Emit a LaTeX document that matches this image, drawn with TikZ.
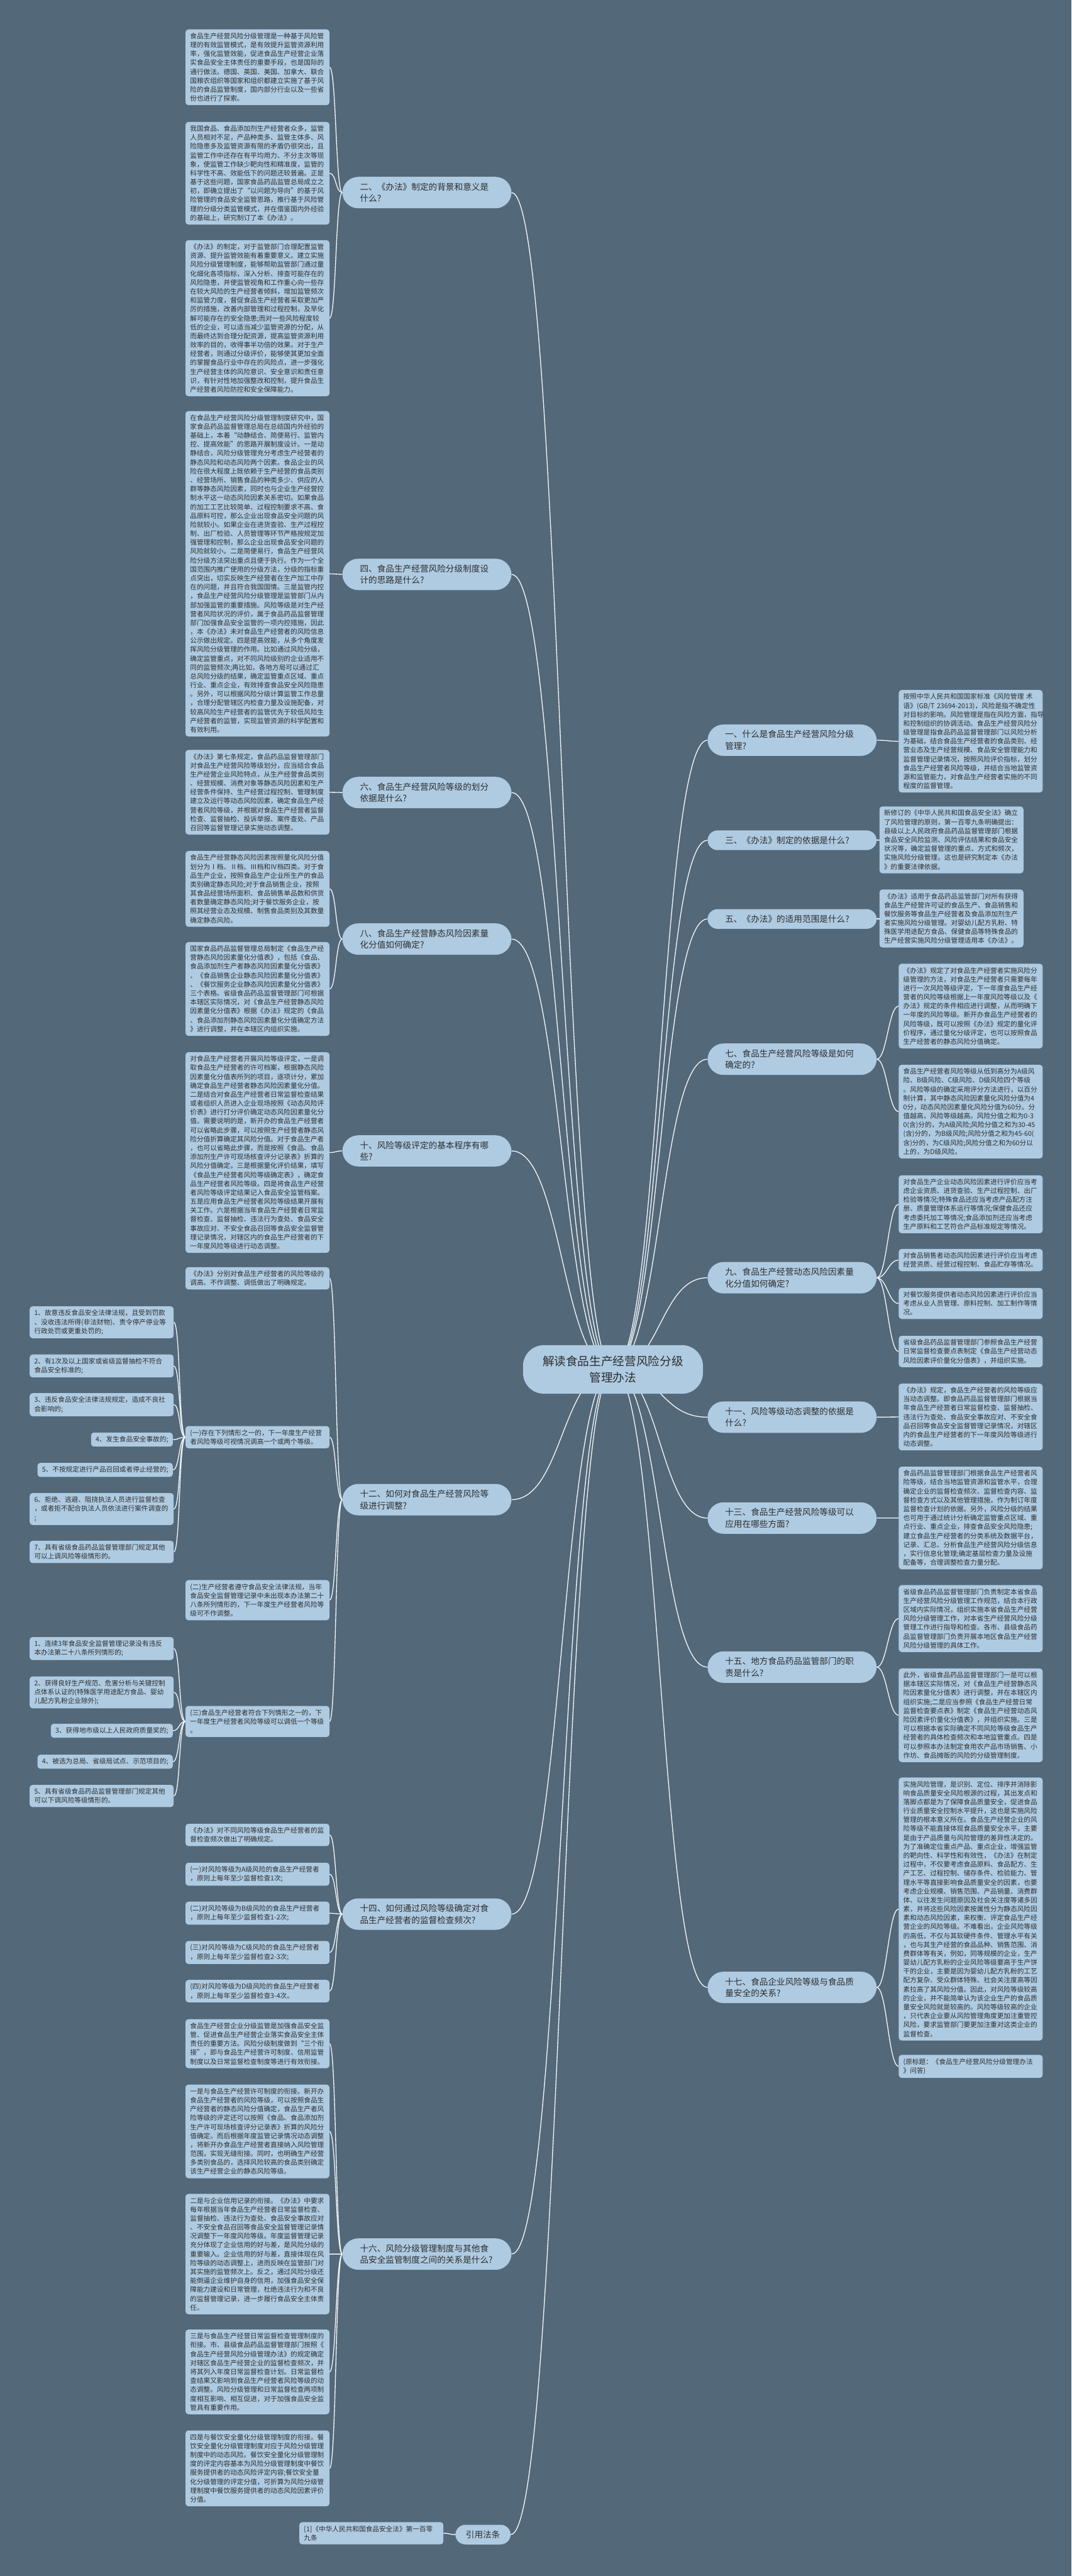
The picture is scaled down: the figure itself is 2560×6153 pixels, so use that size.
\documentclass[tikz,border=0pt]{standalone}
\usepackage{fontspec}
\setmainfont{Noto Sans CJK SC}
\usetikzlibrary{backgrounds}
\definecolor{bgc}{HTML}{536878}
\definecolor{boxc}{HTML}{AECBE2}
\definecolor{txtc}{HTML}{2E2E2E}
\definecolor{linec}{HTML}{F2F6F9}
\tikzset{
  txbox/.style={fill=boxc, rounded corners=7pt, text width=322pt, inner xsep=11pt, inner ysep=8.5pt, align=left, text=txtc, font=\fontsize{16}{21.3}\selectfont},
  lbox/.style={txbox, anchor=north west},
  nbox/.style={fill=boxc, rounded corners=7pt, inner xsep=11pt, inner ysep=8.5pt, align=left, text=txtc, font=\fontsize{16}{21.3}\selectfont, anchor=north east},
  lab/.style={fill=boxc, rounded corners=38pt, text width=320pt, inner xsep=42pt, inner ysep=14pt, align=left, text=txtc, font=\fontsize{20.5}{28}\selectfont},
  lab1/.style={lab, rounded corners=24pt},
  conn/.style={draw=linec, line width=2pt},
}
\begin{document}
\begin{tikzpicture}[x=1pt,y=-1pt]
\useasboundingbox (0,0) rectangle (2560,6153);
% root
\node[fill=boxc, rounded corners=50pt, text width=336pt, inner xsep=47pt, inner ysep=26pt, align=center, text=txtc, font=\fontsize{28}{38}\selectfont] (root) at (1464.5,3271) {解读食品生产经营风险分级\\管理办法};

% ---------- left labels ----------
\node[lab] (L2) at (1020,460) {二、《办法》制定的背景和意义是\\什么?};
\node[lab] (L4) at (1020,1372) {四、食品生产经营风险分级制度设\\计的思路是什么?};
\node[lab] (L6) at (1020,1893) {六、食品生产经营风险等级的划分\\依据是什么?};
\node[lab] (L8) at (1020,2243) {八、食品生产经营静态风险因素量\\化分值如何确定?};
\node[lab] (L10) at (1020,2749) {十、风险等级评定的基本程序有哪\\些?};
\node[lab] (L12) at (1020,3582) {十二、如何对食品生产经营风险等\\级进行调整?};
\node[lab] (L14) at (1020,4572) {十四、如何通过风险等级确定对食\\品生产经营者的监督检查频次?};
\node[lab] (L16) at (1020,5384) {十六、风险分级管理制度与其他食\\品安全监管制度之间的关系是什么?};
\node[fill=boxc, rounded corners=24pt, inner xsep=25pt, inner ysep=14pt, text=txtc, font=\fontsize{20.5}{28}\selectfont] (Lref) at (1154,6054) {引用法条};

% ---------- right labels ----------
\node[lab] (R1) at (1892.5,1768) {一、什么是食品生产经营风险分级\\管理?};
\node[lab1] (R3) at (1892.5,2007) {三、《办法》制定的依据是什么?};
\node[lab1] (R5) at (1892.5,2195) {五、《办法》的适用范围是什么?};
\node[lab] (R7) at (1892.5,2530) {七、食品生产经营风险等级是如何\\确定的?};
\node[lab] (R9) at (1892.5,3052) {九、食品生产经营动态风险因素量\\化分值如何确定?};
\node[lab] (R11) at (1892.5,3385) {十一、风险等级动态调整的依据是\\什么?};
\node[lab] (R13) at (1892.5,3626) {十三、食品生产经营风险等级可以\\应用在哪些方面?};
\node[lab] (R15) at (1892.5,3982) {十五、地方食品药品监管部门的职\\责是什么?};
\node[lab] (R17) at (1892.5,4747) {十七、食品企业风险等级与食品质\\量安全的关系?};

% ---------- left boxes ----------
\node[lbox] (L2a) at (443,70) {食品生产经营风险分级管理是一种基于风险管\\理的有效监管模式，是有效提升监管资源利用\\率，强化监管效能，促进食品生产经营企业落\\实食品安全主体责任的重要手段，也是国际的\\通行做法。德国、英国、美国、加拿大、联合\\国粮农组织等国家和组织都建立实施了基于风\\险的食品监管制度，国内部分行业以及一些省\\份也进行了探索。};
\node[lbox] (L2b) at (443,291) {我国食品、食品添加剂生产经营者众多，监管\\人员相对不足，产品种类多、监管主体多、风\\险隐患多及监管资源有限的矛盾仍很突出，且\\监管工作中还存在有平均用力、不分主次等现\\象，使监管工作缺少靶向性和精准度，监管的\\科学性不高、效能低下的问题还较普遍。正是\\基于这些问题，国家食品药品监管总局成立之\\初，即确立提出了“以问题为导向”的基于风\\险管理的食品安全监管思路，推行基于风险管\\理的分级分类监管模式，并在借鉴国内外经验\\的基础上，研究制订了本《办法》。};
\node[lbox] (L2c) at (443,573.5) {《办法》的制定，对于监管部门合理配置监管\\资源、提升监管效能有着重要意义。建立实施\\风险分级管理制度，能够帮助监管部门通过量\\化细化各项指标，深入分析、排查可能存在的\\风险隐患，并使监管视角和工作重心向一些存\\在较大风险的生产经营者倾斜，增加监管频次\\和监管力度，督促食品生产经营者采取更加严\\厉的措施，改善内部管理和过程控制，及早化\\解可能存在的安全隐患;而对一些风险程度较\\低的企业，可以适当减少监管资源的分配，从\\而最终达到合理分配资源，提高监管资源利用\\效率的目的，收得事半功倍的效果。对于生产\\经营者，则通过分级评价，能够使其更加全面\\的掌握食品行业中存在的风险点，进一步强化\\生产经营主体的风险意识、安全意识和责任意\\识，有针对性地加强整改和控制，提升食品生\\产经营者风险防控和安全保障能力。};
\node[lbox] (L4a) at (443,981.6) {在食品生产经营风险分级管理制度研究中，国\\家食品药品监督管理总局在总结国内外经验的\\基础上，本着“动静结合、简便易行、监管内\\控、提高效能”的思路开展制度设计。一是动\\静结合，风险分级管理充分考虑生产经营者的\\静态风险和动态风险两个因素。食品企业的风\\险在很大程度上既依赖于生产经营的食品类别\\、经营场所、销售食品的种类多少、供应的人\\群等静态风险因素，同时也与企业生产经营控\\制水平这一动态风险因素关系密切。如果食品\\的加工工艺比较简单、过程控制要求不高、食\\品原料可控，那么企业出现食品安全问题的风\\险就较小。如果企业在进货查验、生产过程控\\制、出厂检验、人员管理等环节严格按规定加\\强管理和控制，那么企业出现食品安全问题的\\风险就较小。二是简便易行，食品生产经营风\\险分级方法突出重点且便于执行。作为一个全\\国范围内推广使用的分级方法，分级的指标重\\点突出，切实反映生产经营者在生产加工中存\\在的问题，并且符合我国国情。三是监管内控\\，食品生产经营风险分级管理是监管部门从内\\部加强监管的重要措施。风险等级是对生产经\\营者风险状况的评价，属于食品药品监督管理\\部门加强食品安全监管的一项内控措施，因此\\，本《办法》未对食品生产经营者的风险信息\\公示做出规定。四是提高效能，从多个角度发\\挥风险分级管理的作用。比如通过风险分级，\\确定监管重点，对不同风险级别的企业适用不\\同的监管频次;再比如，各地方局可以通过汇\\总风险分级的结果，确定监管重点区域、重点\\行业、重点企业，有效排查食品安全风险隐患\\。另外，可以根据风险分级计算监管工作总量\\，合理分配管辖区内检查力量及设施配备，对\\较高风险生产经营者的监管优先于较低风险生\\产经营者的监管，实现监管资源的科学配置和\\有效利用。};
\node[lbox] (L6a) at (443,1791) {《办法》第七条规定，食品药品监督管理部门\\对食品生产经营风险等级划分，应当结合食品\\生产经营企业风险特点，从生产经营食品类别\\、经营规模、消费对象等静态风险因素和生产\\经营条件保持、生产经营过程控制、管理制度\\建立及运行等动态风险因素，确定食品生产经\\营者风险等级，并根据对食品生产经营者监督\\检查、监督抽检、投诉举报、案件查处、产品\\召回等监督管理记录实施动态调整。};
\node[lbox] (L8a) at (443,2032.5) {食品生产经营静态风险因素按照量化风险分值\\划分为Ⅰ档、Ⅱ档、Ⅲ档和Ⅳ档四类。对于食\\品生产企业，按照食品生产企业所生产的食品\\类别确定静态风险;对于食品销售企业，按照\\其食品经营场所面积、食品销售单品数和供货\\者数量确定静态风险;对于餐饮服务企业，按\\照其经营业态及规模、制售食品类别及其数量\\确定静态风险。};
\node[lbox] (L8b) at (443,2250) {国家食品药品监督管理总局制定《食品生产经\\营静态风险因素量化分值表》，包括《食品、\\食品添加剂生产者静态风险因素量化分值表》\\、《食品销售企业静态风险因素量化分值表》\\、《餐饮服务企业静态风险因素量化分值表》\\三个表格。省级食品药品监督管理部门可根据\\本辖区实际情况，对《食品生产经营静态风险\\因素量化分值表》根据《办法》规定的《食品\\、食品添加剂静态风险因素量化分值确定方法\\》进行调整，并在本辖区内组织实施。};
\node[lbox] (L10a) at (443,2513) {对食品生产经营者开展风险等级评定，一是调\\取食品生产经营者的许可档案，根据静态风险\\因素量化分值表所列的项目，逐项计分，累加\\确定食品生产经营者静态风险因素量化分值。\\二是结合对食品生产经营者日常监督检查结果\\或者组织人员进入企业现场按照《动态风险评\\价表》进行打分评价确定动态风险因素量化分\\值。需要说明的是，新开办的食品生产经营者\\可以省略此步骤，可以按照生产经营者静态风\\险分值折算确定其风险分值。对于食品生产者\\，也可以省略此步骤，而是按照《食品、食品\\添加剂生产许可现场核查评分记录表》折算的\\风险分值确定。三是根据量化评价结果，填写\\《食品生产经营者风险等级确定表》，确定食\\品生产经营者风险等级。四是将食品生产经营\\者风险等级评定结果记入食品安全监管档案。\\五是应用食品生产经营者风险等级结果开展有\\关工作。六是根据当年食品生产经营者日常监\\督检查、监督抽检、违法行为查处、食品安全\\事故应对、不安全食品召回等食品安全监督管\\理记录情况，对辖区内的食品生产经营者的下\\一年度风险等级进行动态调整。};
\node[lbox] (L12a) at (443,3026.6) {《办法》分别对食品生产经营者的风险等级的\\调高、不作调整、调低做出了明确规定。};
\node[lbox] (L12b) at (443,3406) {(一)存在下列情形之一的，下一年度生产经营\\者风险等级可视情况调高一个或两个等级。};
\node[lbox] (L12c) at (443,3774) {(二)生产经营者遵守食品安全法律法规，当年\\食品安全监督管理记录中未出现本办法第二十\\八条所列情形的，下一年度生产经营者风险等\\级可不作调整。};
\node[lbox] (L12d) at (443,4074.6) {(三)食品生产经营者符合下列情形之一的，下\\一年度生产经营者风险等级可以调低一个等级\\。};
% small boxes
\node[lbox] (s1) at (70.7,3120) {1、故意违反食品安全法律法规，且受到罚款\\、没收违法所得(非法财物)、责令停产停业等\\行政处罚或更重处罚的;};
\node[lbox] (s2) at (70.7,3235) {2、有1次及以上国家或省级监督抽检不符合\\食品安全标准的;};
\node[lbox] (s3) at (70.7,3327.5) {3、违反食品安全法律法规规定，造成不良社\\会影响的;};
\node[nbox] (s4) at (413,3421.5) {4、发生食品安全事故的;};
\node[nbox] (s5) at (413,3494) {5、不按规定进行产品召回或者停止经营的;};
\node[lbox] (s6) at (70.7,3566) {6、拒绝、逃避、阻挠执法人员进行监督检查\\，或者拒不配合执法人员依法进行案件调查的\\;};
\node[lbox] (s7) at (70.7,3680) {7、具有省级食品药品监督管理部门规定其他\\可以上调风险等级情形的。};
\node[lbox] (t1) at (70.7,3910) {1、连续3年食品安全监督管理记录没有违反\\本办法第二十八条所列情形的;};
\node[lbox] (t2) at (70.7,4004) {2、获得良好生产规范、危害分析与关键控制\\点体系认证的(特殊医学用途配方食品、婴幼\\儿配方乳粉企业除外);};
\node[nbox] (t3) at (413,4117) {3、获得地市级以上人民政府质量奖的;};
\node[nbox] (t4) at (413,4191) {4、被选为总局、省级局试点、示范项目的;};
\node[lbox] (t5) at (70.7,4263) {5、具有省级食品药品监督管理部门规定其他\\可以下调风险等级情形的。};
\node[lbox] (L14a) at (443,4356) {《办法》对不同风险等级食品生产经营者的监\\督检查频次做出了明确规定。};
\node[lbox] (L14b) at (443,4449) {(一)对风险等级为A级风险的食品生产经营者\\，原则上每年至少监督检查1次;};
\node[lbox] (L14c) at (443,4542) {(二)对风险等级为B级风险的食品生产经营者\\，原则上每年至少监督检查1-2次;};
\node[lbox] (L14d) at (443,4636) {(三)对风险等级为C级风险的食品生产经营者\\，原则上每年至少监督检查2-3次;};
\node[lbox] (L14e) at (443,4729) {(四)对风险等级为D级风险的食品生产经营者\\，原则上每年至少监督检查3-4次。};
\node[lbox] (L16a) at (443,4822.7) {食品生产经营企业分级监管是加强食品安全监\\管、促进食品生产经营企业落实食品安全主体\\责任的重要方法。风险分级制度做到“三个衔\\接”，即与食品生产经营许可制度、信用监管\\制度以及日常监督检查制度等进行有效衔接。};
\node[lbox] (L16b) at (443,4979) {一是与食品生产经营许可制度的衔接。新开办\\食品生产经营者的风险等级，可以按照食品生\\产经营者的静态风险分值确定，食品生产者风\\险等级的评定还可以按照《食品、食品添加剂\\生产许可现场核查评分记录表》折算的风险分\\值确定。而后根据年度监管记录情况动态调整\\，将新开办食品生产经营者直接纳入风险管理\\范围，实现无缝衔接。同时，也明确生产经营\\多类别食品的，选择风险较高的食品类别确定\\该生产经营企业的静态风险等级。};
\node[lbox] (L16c) at (443,5240) {二是与企业信用记录的衔接。《办法》中要求\\每年根据当年食品生产经营者日常监督检查、\\监督抽检、违法行为查处、食品安全事故应对\\、不安全食品召回等食品安全监督管理记录情\\况调整下一年度风险等级。年度监督管理记录\\充分体现了企业信用的好与差，是风险分级的\\重要输入。企业信用的好与差，直接体现在风\\险等级的动态调整上，进而反映在监管部门对\\其实施的监管频次上。反之，通过风险分级还\\能倒逼企业维护自身的信用，加强食品安全保\\障能力建设和日常管理，杜绝违法行为和不良\\的监督管理记录，进一步履行食品安全主体责\\任。};
\node[lbox] (L16d) at (443,5564) {三是与食品生产经营日常监督检查管理制度的\\衔接。市、县级食品药品监督管理部门按照《\\食品生产经营风险分级管理办法》的规定确定\\对辖区食品生产经营企业的监督检查频次，并\\将其列入年度日常监督检查计划。日常监督检\\查结果又影响到食品生产经营者风险等级的动\\态调整。风险分级管理和日常监督检查两项制\\度相互影响、相互促进，对于加强食品安全监\\管具有重要作用。};
\node[lbox] (L16e) at (443,5805) {四是与餐饮安全量化分级管理制度的衔接。餐\\饮安全量化分级管理制度对应于风险分级管理\\制度中的动态风险。餐饮安全量化分级管理制\\度的评定内容基本为风险分级管理制度中餐饮\\服务提供者的动态风险评定内容;餐饮安全量\\化分级管理的评定分值，可折算为风险分级管\\理制度中餐饮服务提供者的动态风险因素评价\\分值。};
\node[lbox] (Lrefa) at (715,6024) {[1]《中华人民共和国食品安全法》第一百零\\九条};

% ---------- right boxes ----------
\node[lbox] (R1a) at (2147,1648) {按照中华人民共和国国家标准《风险管理\ 术\\语》(GB/T 23694-2013)，风险是指不确定性\\对目标的影响。风险管理是指在风险方面，指导\\和控制组织的协调活动。食品生产经营风险分\\级管理是指食品药品监督管理部门以风险分析\\为基础，结合食品生产经营者的食品类别、经\\营业态及生产经营规模、食品安全管理能力和\\监督管理记录情况，按照风险评价指标，划分\\食品生产经营者风险等级，并结合当地监管资\\源和监管能力，对食品生产经营者实施的不同\\程度的监督管理。};
\node[lbox] (R3a) at (2101,1926) {新修订的《中华人民共和国食品安全法》确立\\了风险管理的原则，第一百零九条明确提出：\\县级以上人民政府食品药品监督管理部门根据\\食品安全风险监测、风险评估结果和食品安全\\状况等，确定监督管理的重点、方式和频次，\\实施风险分级管理。这也是研究制定本《办法\\》的重要法律依据。};
\node[lbox] (R5a) at (2101,2124.4) {《办法》适用于食品药品监管部门对所有获得\\食品生产经营许可证的食品生产、食品销售和\\餐饮服务等食品生产经营者及食品添加剂生产\\者实施风险分级管理。对婴幼儿配方乳粉、特\\殊医学用途配方食品、保健食品等特殊食品的\\生产经营实施风险分级管理适用本《办法》。};
\node[lbox] (R7a) at (2147,2301.7) {《办法》规定了对食品生产经营者实施风险分\\级管理的方法，对食品生产经营者只需要每年\\进行一次风险等级评定，下一年度食品生产经\\营者的风险等级根据上一年度风险等级以及《\\办法》规定的条件相应进行调整，从而明确下\\一年度的风险等级。新开办食品生产经营者的\\风险等级，既可以按照《办法》规定的量化评\\价程序，通过量化分级评定，也可以按照食品\\生产经营者的静态风险分值确定。};
\node[lbox] (R7b) at (2147,2543) {食品生产经营者风险等级从低到高分为A级风\\险、B级风险、C级风险、D级风险四个等级\\。风险等级的确定采用评分方法进行，以百分\\制计算，其中静态风险因素量化风险分值为4\\0分，动态风险因素量化风险分值为60分。分\\值越高，风险等级越高。风险分值之和为0-3\\0(含)分的，为A级风险;风险分值之和为30-45\\(含)分的，为B级风险;风险分值之和为45-60(\\含)分的，为C级风险;风险分值之和为60分以\\上的，为D级风险。};
\node[lbox] (R9a) at (2147,2807) {对食品生产企业动态风险因素进行评价应当考\\虑企业资质、进货查验、生产过程控制、出厂\\检验等情况;特殊食品还应当考虑产品配方注\\册、质量管理体系运行等情况;保健食品还应\\考虑委托加工等情况;食品添加剂还应当考虑\\生产原料和工艺符合产品标准规定等情况。};
\node[lbox] (R9b) at (2147,2983) {对食品销售者动态风险因素进行评价应当考虑\\经营资质、经营过程控制、食品贮存等情况。};
\node[lbox] (R9c) at (2147,3076) {对餐饮服务提供者动态风险因素进行评价应当\\考虑从业人员管理、原料控制、加工制作等情\\况。};
\node[lbox] (R9d) at (2147,3190.5) {省级食品药品监督管理部门参照食品生产经营\\日常监督检查要点表制定《食品生产经营动态\\风险因素评价量化分值表》，并组织实施。};
\node[lbox] (R11a) at (2147,3304.5) {《办法》规定，食品生产经营者的风险等级应\\当动态调整。即食品药品监督管理部门根据当\\年食品生产经营者日常监督检查、监督抽检、\\违法行为查处、食品安全事故应对、不安全食\\品召回等食品安全监督管理记录情况，对辖区\\内的食品生产经营者的下一年度风险等级进行\\动态调整。};
\node[lbox] (R13a) at (2147,3503) {食品药品监督管理部门根据食品生产经营者风\\险等级，结合当地监管资源和监管水平，合理\\确定企业的监督检查频次、监督检查内容、监\\督检查方式以及其他管理措施，作为制订年度\\监督检查计划的依据。另外，风险分级的结果\\也可用于通过统计分析确定监管重点区域、重\\点行业、重点企业，排查食品安全风险隐患;\\建立食品生产经营者的分类系统及数据平台，\\记录、汇总、分析食品生产经营风险分级信息\\，实行信息化管理;确定基层检查力量及设施\\配备等，合理调整检查力量分配。};
\node[lbox] (R15a) at (2147,3786) {省级食品药品监督管理部门负责制定本省食品\\生产经营风险分级管理工作规范，结合本行政\\区域内实际情况，组织实施本省食品生产经营\\风险分级管理工作，对本省生产经营风险分级\\管理工作进行指导和检查。各市、县级食品药\\品监督管理部门负责开展本地区食品生产经营\\风险分级管理的具体工作。};
\node[lbox] (R15b) at (2147,3985) {此外，省级食品药品监督管理部门一是可以根\\据本辖区实际情况，对《食品生产经营静态风\\险因素量化分值表》进行调整，并在本辖区内\\组织实施;二是应当参照《食品生产经营日常\\监督检查要点表》制定《食品生产经营动态风\\险因素评价量化分值表》，并组织实施。三是\\可以根据本省实际确定不同风险等级食品生产\\经营者的具体检查频次和本地监管重点。四是\\可以参照本办法制定食用农产品市场销售、小\\作坊、食品摊贩的风险的分级管理制度。};
\node[lbox] (R17a) at (2147,4245.5) {实施风险管理，是识别、定位、排序并消除影\\响食品质量安全风险根源的过程，其出发点和\\落脚点都是为了保障食品质量安全，促进食品\\行业质量安全控制水平提升，这也是实施风险\\管理的根本意义所在。食品生产经营企业的风\\险等级不能直接体现食品质量安全水平，主要\\是由于产品质量与风险管理的差异性决定的。\\为了准确定位重点产品、重点企业，增强监管\\的靶向性、科学性和有效性，《办法》在制定\\过程中，不仅要考虑食品原料、食品配方、生\\产工艺、过程控制、储存条件、检验能力、管\\理水平等直接影响食品质量安全的因素，也要\\考虑企业规模、销售范围、产品销量、消费群\\体、以往发生问题原因及社会关注度等诸多因\\素，并将这些风险因素按属性分为静态风险因\\素和动态风险因素，来权衡、评定食品生产经\\营企业的风险等级。不难看出，企业风险等级\\的高低，不仅与其软硬件条件、管理水平有关\\，也与其生产经营的食品品种、销售范围、消\\费群体等有关，例如，同等规模的企业，生产\\婴幼儿配方乳粉的企业风险等级要高于生产饼\\干的企业，主要是因为婴幼儿配方乳粉的工艺\\配方复杂、受众群体特殊、社会关注度高等因\\素拉高了其风险分值。因此，对风险等级较高\\的企业，并不能简单认为该企业生产的食品质\\量安全风险就是较高的。风险等级较高的企业\\，只代表企业要从风险管理角度更加注重管控\\风险，要求监管部门要更加注重对这类企业的\\监督检查。};
\node[lbox] (R17b) at (2147,4908) {(原标题：《食品生产经营风险分级管理办法\\》问答)};

% ---------- connectors ----------
\begin{scope}[on background layer]
\fill[bgc] (0,0) rectangle (2560,6153);
\foreach \c in {L2,L4,L6,L8,L10,L12,L14,L16,Lref}
  \draw[conn] (root.center) .. controls +(-121,0) and +(121,0) .. (\c.east);
\foreach \c in {R1,R3,R5,R7,R9,R11,R13,R15,R17}
  \draw[conn] (root.center) .. controls +(113,0) and +(-113,0) .. (\c.west);
\foreach \p/\c in {L2/L2a,L2/L2b,L2/L2c,L4/L4a,L6/L6a,L8/L8a,L8/L8b,L10/L10a,L12/L12a,L12/L12b,L12/L12c,L12/L12d,L14/L14a,L14/L14b,L14/L14c,L14/L14d,L14/L14e,L16/L16a,L16/L16b,L16/L16c,L16/L16d,L16/L16e,Lref/Lrefa,L12b/s1,L12b/s2,L12b/s3,L12b/s4,L12b/s5,L12b/s6,L12b/s7,L12d/t1,L12d/t2,L12d/t3,L12d/t4,L12d/t5}
  \draw[conn] (\p.west) .. controls +(-16,0) and +(16,0) .. (\c.east);
\foreach \p/\c in {R1/R1a,R3/R3a,R5/R5a,R7/R7a,R7/R7b,R9/R9a,R9/R9b,R9/R9c,R9/R9d,R11/R11a,R13/R13a,R15/R15a,R15/R15b,R17/R17a,R17/R17b}
  \draw[conn] (\p.east) .. controls +(24,0) and +(-24,0) .. (\c.west);
\end{scope}
\end{tikzpicture}
\end{document}
